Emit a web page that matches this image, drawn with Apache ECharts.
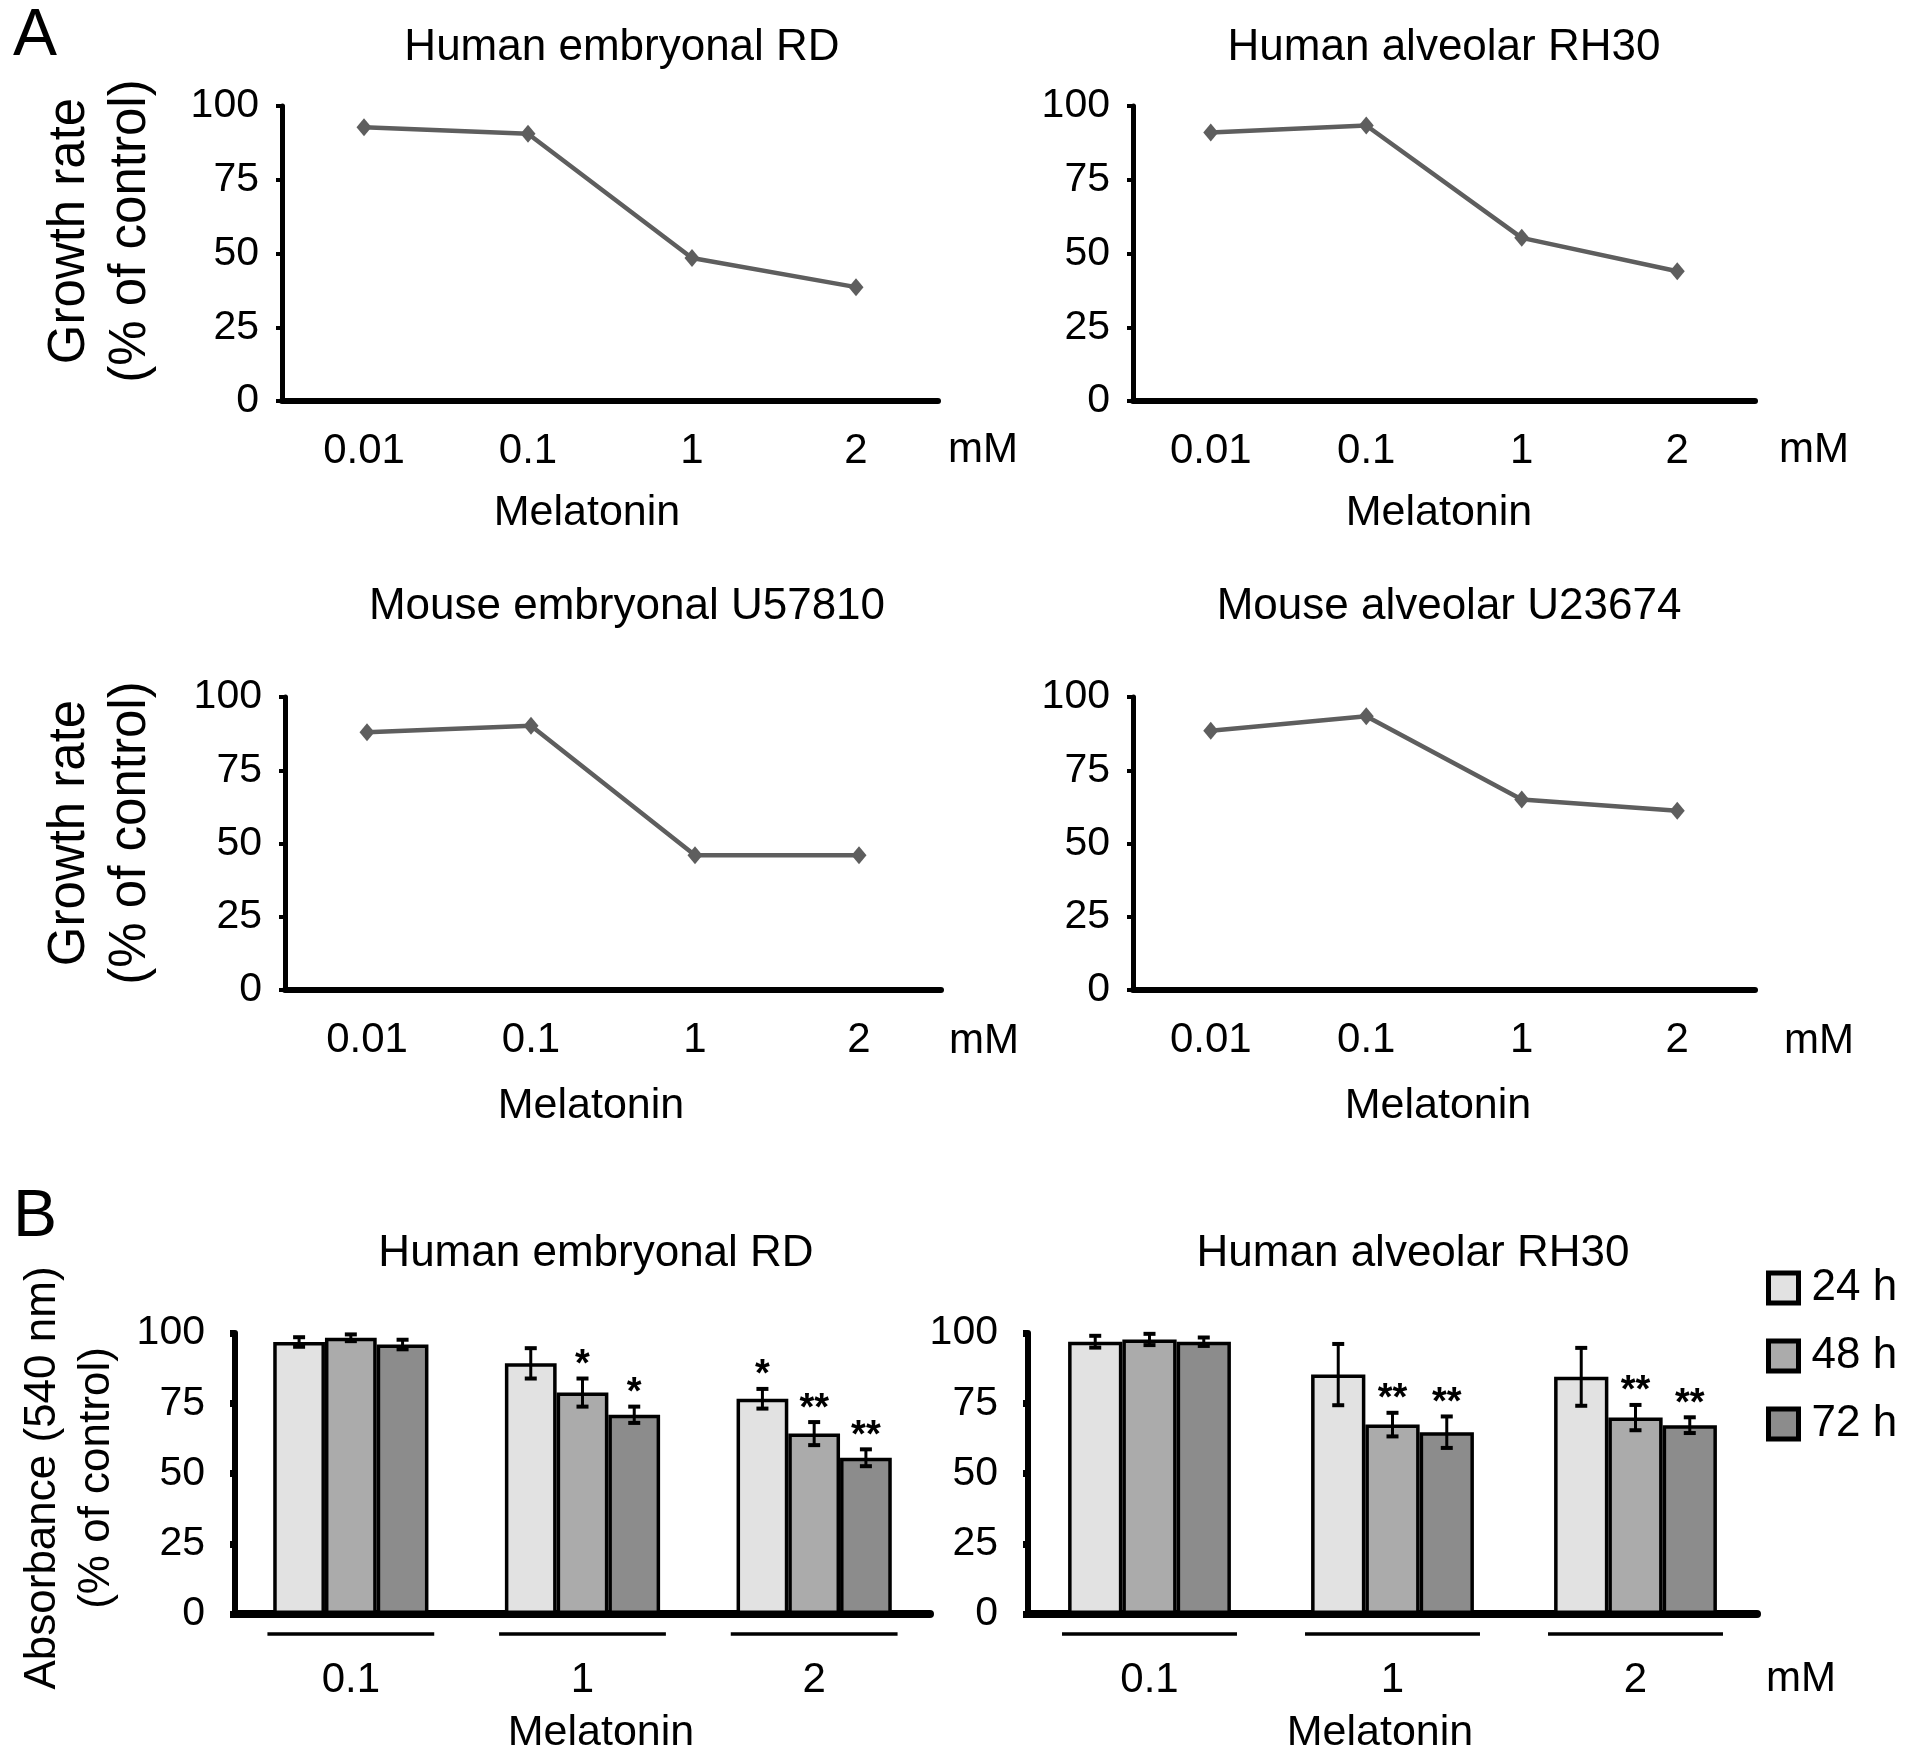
<!DOCTYPE html>
<html>
<head>
<meta charset="utf-8">
<script src="https://cdn.jsdelivr.net/npm/echarts@6.0.0/dist/echarts.min.js"></script>
<style>
html,body{margin:0;padding:0;background:#fff;}
#chart{width:1913px;height:1761px;}
</style>
</head>
<body>
<div id="chart"></div>
<script>
// ---------- data ----------
const doseLabels = ['0.01', '0.1', '1', '2'];
const rdGrowth = [92.8, 90.6, 48.5, 38.6];
const rh30Growth = [91.0, 93.4, 55.3, 44.0];
const u57810Growth = [88.0, 90.2, 46.0, 46.0];
const u23674Growth = [88.5, 93.4, 65.0, 61.2];

const barDoses = ['0.1', '1', '2'];
const timeNames = ['24 h', '48 h', '72 h'];

const rd24 = [96.8, 89.2, 76.6];
const rd48 = [98.3, 78.8, 64.2];
const rd72 = [95.9, 70.9, 55.6];
const rdErr24 = [1.7, 5.4, 3.5];
const rdErr48 = [1.2, 5.0, 4.1];
const rdErr72 = [1.7, 2.9, 3.0];
const rdSig24 = ['', '', '*'];
const rdSig48 = ['', '*', '**'];
const rdSig72 = ['', '*', '**'];

const rh24 = [96.9, 85.2, 84.4];
const rh48 = [97.7, 67.4, 69.9];
const rh72 = [96.9, 64.7, 67.2];
const rhErr24 = [2.1, 10.9, 10.3];
const rhErr48 = [2.0, 4.2, 4.5];
const rhErr72 = [1.5, 5.6, 2.8];
const rhSig24 = ['', '', ''];
const rhSig48 = ['', '**', '**'];
const rhSig72 = ['', '**', '**'];

// ---------- styling / layout ----------
const FONT = '"Liberation Sans", Arial, Helvetica, sans-serif';
const barColors = ['#e2e2e2', '#ababab', '#8c8c8c'];
const lineColor = '#5e5e5e';
const CAT_GAP = 0.33;

const lineGrids = [
  {left: 282, top: 106, width: 656, height: 295},
  {left: 1133, top: 106, width: 622, height: 295},
  {left: 285, top: 697, width: 656, height: 293},
  {left: 1133, top: 697, width: 622, height: 293}
];
const barGrids = [
  {left: 235, top: 1333, width: 695, height: 281},
  {left: 1028, top: 1333, width: 729, height: 281}
];

const lineSets = [rdGrowth, rh30Growth, u57810Growth, u23674Growth];
const barSets = [
  {means: [rd24, rd48, rd72], errs: [rdErr24, rdErr48, rdErr72], sigs: [rdSig24, rdSig48, rdSig72]},
  {means: [rh24, rh48, rh72], errs: [rhErr24, rhErr48, rhErr72], sigs: [rhSig24, rhSig48, rhSig72]}
];

const grid = [];
const xAxis = [];
const yAxis = [];
const series = [];

lineGrids.forEach((g, i) => {
  grid.push(Object.assign({containLabel: false}, g));
  xAxis.push({
    type: 'category', gridIndex: i, data: doseLabels, boundaryGap: true,
    axisLine: {show: true, onZero: true, lineStyle: {color: '#000', width: 6}},
    axisTick: {show: false},
    axisLabel: {fontSize: 42, color: '#000', fontFamily: FONT, margin: 29},
    splitLine: {show: false}
  });
  yAxis.push({
    type: 'value', gridIndex: i, min: 0, max: 100, interval: 25,
    axisLine: {show: true, lineStyle: {color: '#000', width: 5}},
    axisTick: {show: true, inside: false, length: 6, lineStyle: {color: '#000', width: 4}},
    axisLabel: {fontSize: 41, color: '#000', fontFamily: FONT, margin: 23},
    splitLine: {show: false}
  });
  series.push({
    type: 'line', xAxisIndex: i, yAxisIndex: i, data: lineSets[i],
    symbol: 'diamond', symbolSize: [15, 18],
    lineStyle: {color: lineColor, width: 4.5},
    itemStyle: {color: lineColor},
    silent: true, animation: false
  });
});

barGrids.forEach((g, j) => {
  const gi = 4 + j;
  grid.push(Object.assign({containLabel: false}, g));
  xAxis.push({
    type: 'category', gridIndex: gi, data: barDoses, boundaryGap: true,
    axisLine: {show: true, onZero: true, lineStyle: {color: '#000', width: 8}},
    axisTick: {show: false},
    axisLabel: {fontSize: 42, color: '#000', fontFamily: FONT, margin: 45},
    splitLine: {show: false}
  });
  yAxis.push({
    type: 'value', gridIndex: gi, min: 0, max: 100, interval: 25,
    axisLine: {show: true, lineStyle: {color: '#000', width: 6}},
    axisTick: {show: true, inside: false, length: 5, lineStyle: {color: '#000', width: 7}},
    axisLabel: {fontSize: 41, color: '#000', fontFamily: FONT, margin: 30},
    splitLine: {show: false}
  });
  const set = barSets[j];
  timeNames.forEach((nm, s) => {
    series.push({
      type: 'bar', name: nm, xAxisIndex: gi, yAxisIndex: gi,
      data: set.means[s], barGap: '0%', barCategoryGap: (CAT_GAP * 100) + '%',
      itemStyle: {color: barColors[s], borderColor: '#000', borderWidth: 3.5},
      silent: true, animation: false
    });
  });
  // error bars + significance marks
  const errData = [];
  for (let s = 0; s < 3; s++) {
    for (let c = 0; c < barDoses.length; c++) {
      errData.push([c, s, set.means[s][c], set.errs[s][c]]);
    }
  }
  series.push({
    type: 'custom', xAxisIndex: gi, yAxisIndex: gi, data: errData, z: 10,
    clip: false, silent: true, animation: false,
    encode: {x: 0, y: 2},
    renderItem: function (params, api) {
      const c = api.value(0), s = api.value(1), m = api.value(2), e = api.value(3);
      const band = api.size([1, 0])[0];
      const bw = band * (1 - CAT_GAP) / 3;
      const x = api.coord([c, m])[0] + (s - 1) * bw;
      const yT = api.coord([c, m + e])[1];
      const yB = api.coord([c, m - e])[1];
      const cap = 6;
      const ls = {stroke: '#000', lineWidth: 3};
      const cs = {stroke: '#000', lineWidth: 4};
      const sig = set.sigs[s][c];
      const children = [
        {type: 'line', shape: {x1: x, y1: yT, x2: x, y2: yB}, style: ls},
        {type: 'line', shape: {x1: x - cap, y1: yT, x2: x + cap, y2: yT}, style: cs},
        {type: 'line', shape: {x1: x - cap, y1: yB, x2: x + cap, y2: yB}, style: cs}
      ];
      if (sig) {
        children.push({
          type: 'text',
          style: {
            text: sig, x: x, y: yT - 13,
            align: 'center', verticalAlign: 'middle',
            textAlign: 'center', textVerticalAlign: 'middle',
            font: 'bold 38px ' + FONT, fill: '#000'
          }
        });
      }
      return {type: 'group', children: children};
    }
  });
  // group underlines below the axis
  series.push({
    type: 'custom', xAxisIndex: gi, yAxisIndex: gi,
    data: barDoses.map((d, c) => [c, 0]), z: 10,
    clip: false, silent: true, animation: false,
    encode: {x: 0, y: 1},
    renderItem: function (params, api) {
      const c = api.value(0);
      const band = api.size([1, 0])[0];
      const p = api.coord([c, 0]);
      const half = band * 0.36;
      return {
        type: 'line',
        shape: {x1: p[0] - half, y1: p[1] + 20, x2: p[0] + half, y2: p[1] + 20},
        style: {stroke: '#000', lineWidth: 3.5}
      };
    }
  });
});

// ---------- text elements ----------
function txt(text, x, y, size, extra) {
  return Object.assign({
    type: 'text', x: x, y: y, silent: true,
    style: {
      text: text, fill: '#000', font: size + 'px ' + FONT,
      align: 'center', verticalAlign: 'middle',
      textAlign: 'center', textVerticalAlign: 'middle'
    }
  }, extra || {});
}
function vtxt(text, x, y, size, lh) {
  const t = txt(text, x, y, size, {rotation: Math.PI / 2});
  t.style.lineHeight = lh;
  return t;
}

const graphic = [
  txt('A', 35, 37, 66),
  txt('B', 35, 1218, 66),
  txt('Human embryonal RD', 622, 48, 44),
  txt('Human alveolar RH30', 1444, 48, 44),
  txt('Mouse embryonal U57810', 627, 607, 44),
  txt('Mouse alveolar U23674', 1449, 607, 44),
  txt('Human embryonal RD', 596, 1254, 44),
  txt('Human alveolar RH30', 1413, 1254, 44),
  txt('Melatonin', 587, 513, 43),
  txt('Melatonin', 1439, 513, 43),
  txt('Melatonin', 591, 1106, 43),
  txt('Melatonin', 1438, 1106, 43),
  txt('Melatonin', 601, 1733, 43),
  txt('Melatonin', 1380, 1733, 43),
  txt('mM', 983, 450, 42),
  txt('mM', 1814, 450, 42),
  txt('mM', 984, 1041, 42),
  txt('mM', 1819, 1041, 42),
  txt('mM', 1801, 1679, 42),
  vtxt('Growth rate\n(% of control)', 100, 231, 51, 61),
  vtxt('Growth rate\n(% of control)', 100, 833, 51, 61),
  vtxt('Absorbance (540 nm)\n(% of control)', 70, 1478, 44, 54)
];

const chart = echarts.init(document.getElementById('chart'), null, {renderer: 'canvas'});
chart.setOption({
  backgroundColor: '#fff',
  animation: false,
  textStyle: {fontFamily: FONT},
  grid: grid,
  xAxis: xAxis,
  yAxis: yAxis,
  series: series,
  legend: {
    data: timeNames, orient: 'vertical', left: 1766, top: 1266,
    itemWidth: 30, itemHeight: 30, itemGap: 24, selectedMode: false,
    icon: 'rect', padding: 0,
    itemStyle: {borderColor: '#000', borderWidth: 5},
    textStyle: {fontSize: 44, color: '#000', fontFamily: FONT, padding: [0, 0, 0, 8]}
  },
  graphic: graphic
});
</script>
</body>
</html>
